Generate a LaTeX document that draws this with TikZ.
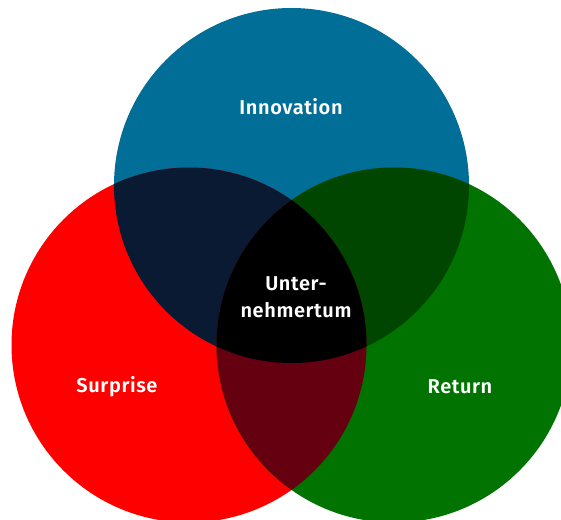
\documentclass[tikz,border=0pt]{standalone}
\usepackage{fontspec}
\setmainfont{Fira Sans}[BoldFont={Fira Sans SemiBold},BoldFeatures={LetterSpace=3}]
\definecolor{cblue}{RGB}{0,110,150}
\definecolor{cred}{RGB}{255,0,0}
\definecolor{cgreen}{RGB}{0,115,0}
\definecolor{cnavy}{RGB}{10,26,51}
\definecolor{cdgreen}{RGB}{0,70,0}
\definecolor{cdred}{RGB}{100,0,15}
\tikzset{lbl/.style={text=white,font=\fontsize{20}{27}\selectfont\bfseries,align=center}}
\begin{document}
\begin{tikzpicture}[x=1pt,y=-1pt]
\useasboundingbox (0,0) rectangle (561,519);
\def\R{177.5}
\coordinate (T) at (291.5,185.5);
\coordinate (L) at (189,345);
\coordinate (Rr) at (394,345);
\fill[cblue] (T) circle (\R);
\fill[cred] (L) circle (\R);
\fill[cgreen] (Rr) circle (\R);
\begin{scope}
\clip (T) circle (\R);
\fill[cnavy] (L) circle (\R);
\fill[cdgreen] (Rr) circle (\R);
\end{scope}
\begin{scope}
\clip (L) circle (\R);
\fill[cdred] (Rr) circle (\R);
\clip (Rr) circle (\R);
\fill[black] (T) circle (\R);
\end{scope}
\node[lbl] (inn) at (291,107) {Innovation};
\node[lbl] (sur) at (117,387) {Surprise};
\node[lbl] (ret) at (460,387) {Return};
\node[lbl] (unt) at (296,297) {Unter-\\nehmertum};
\end{tikzpicture}
\end{document}
